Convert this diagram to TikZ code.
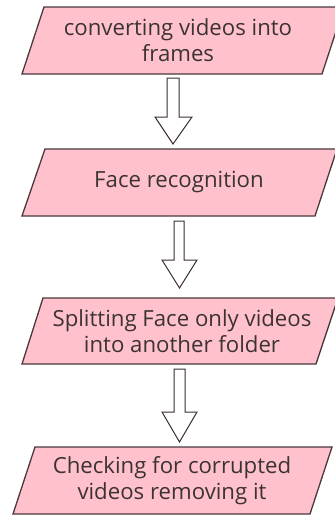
\documentclass[tikz,border=0pt]{standalone}
\usepackage{fontspec}
\setmainfont{Open Sans}
\definecolor{boxfill}{RGB}{255,194,205}
\definecolor{boxline}{RGB}{75,55,60}
\definecolor{txt}{RGB}{60,50,52}
\tikzset{
  stepbox/.style={draw=boxline, fill=boxfill, line width=1.3pt, line join=miter},
  steptext/.style={text=txt, align=center, font=\fontsize{22.2}{26}\selectfont, inner sep=0pt},
  blockarrow/.style={draw=boxline!80!black, fill=white, line width=1pt, line join=miter}
}
\begin{document}
\begin{tikzpicture}[x=1pt,y=-1pt]
\useasboundingbox (0,0) rectangle (335,515);
% boxes
\draw[stepbox] (44,7) -- (344,7) -- (322,74) -- (22,74) -- cycle;
\node[steptext] (b1) at (178,40.5) {converting videos into\\frames};
\draw[stepbox] (45,149) -- (337,149) -- (315,216) -- (22,216) -- cycle;
\node[steptext] (b2) at (179,182.5) {Face recognition};
\draw[stepbox] (43,298) -- (338,298) -- (316,364) -- (22,364) -- cycle;
\node[steptext] (b3) at (182,331) {Splitting Face only videos\\into another folder};
\draw[stepbox] (35,447) -- (332,447) -- (310,514) -- (13,514) -- cycle;
\node[steptext] (b4) at (172,480.5) {Checking for corrupted\\videos removing it};
% block arrows
\coordinate (a1) at (173,78);
\coordinate (t1) at (173,144);
\draw[blockarrow] (167,78) -- (179,78) -- (179,117) -- (192,117) -- (t1) -- (155,117) -- (167,117) -- cycle;
\coordinate (a2) at (179,221);
\coordinate (t2) at (179.5,288);
\draw[blockarrow] (174,221) -- (184,221) -- (184,260) -- (197,260) -- (t2) -- (162,260) -- (174,260) -- cycle;
\coordinate (a3) at (179,369);
\coordinate (t3) at (179.5,442);
\draw[blockarrow] (174,369) -- (185,369) -- (185,412) -- (197,412) -- (t3) -- (162,412) -- (174,412) -- cycle;
\end{tikzpicture}
\end{document}
